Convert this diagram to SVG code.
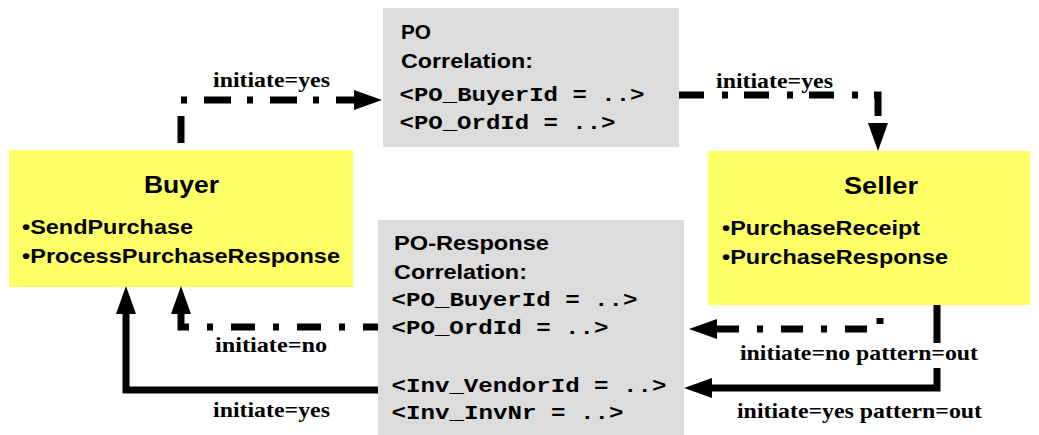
<svg xmlns="http://www.w3.org/2000/svg" width="1039" height="435" viewBox="0 0 1039 435">
<style>
.yb{fill:#FFFF66}
.gb{fill:#DCDCDC}
.t{font-family:"Liberation Sans",Arial,sans-serif;font-weight:bold;font-size:23px;fill:#000}
.s{font-family:"Liberation Sans",Arial,sans-serif;font-weight:bold;font-size:20.5px;fill:#000}
.m{font-family:"Liberation Mono","Courier New",monospace;font-weight:bold;font-size:21px;fill:#000}
.l{font-family:"Liberation Serif","Times New Roman",serif;font-weight:bold;font-size:21px;fill:#000}
.c{fill:none;stroke:#000;stroke-width:7;marker-end:url(#ah)}
</style>
<defs>
<marker id="ah" markerUnits="userSpaceOnUse" markerWidth="28" markerHeight="20" viewBox="0 0 28 20" refX="0" refY="10" orient="auto">
<path d="M0,0 L28,10 L0,20 z" fill="#000"/>
</marker>
</defs>
<rect width="1039" height="435" fill="#fff"/>

<g id="buyer">
<rect class="yb" x="9" y="150" width="344" height="137"/>
<text class="t" x="144" y="193" textLength="75" lengthAdjust="spacingAndGlyphs">Buyer</text>
<text class="s" x="22" y="234" textLength="171" lengthAdjust="spacingAndGlyphs">•SendPurchase</text>
<text class="s" x="22" y="263" textLength="318" lengthAdjust="spacingAndGlyphs">•ProcessPurchaseResponse</text>
</g>

<g id="seller">
<rect class="yb" x="708" y="151" width="322" height="154"/>
<text class="t" x="844" y="194" textLength="74" lengthAdjust="spacingAndGlyphs">Seller</text>
<text class="s" x="722" y="235" textLength="198" lengthAdjust="spacingAndGlyphs">•PurchaseReceipt</text>
<text class="s" x="722" y="264" textLength="226" lengthAdjust="spacingAndGlyphs">•PurchaseResponse</text>
</g>

<g id="po-correlation">
<rect class="gb" x="383" y="8" width="296" height="139"/>
<text class="s" x="401" y="39" textLength="30" lengthAdjust="spacingAndGlyphs">PO</text>
<text class="s" x="401" y="68" textLength="132" lengthAdjust="spacingAndGlyphs">Correlation:</text>
<text class="m" x="399.5" y="101" textLength="245" lengthAdjust="spacingAndGlyphs">&lt;PO_BuyerId = ..&gt;</text>
<text class="m" x="399.5" y="129" textLength="216" lengthAdjust="spacingAndGlyphs">&lt;PO_OrdId = ..&gt;</text>
</g>

<g id="po-response-correlation">
<rect class="gb" x="378" y="220" width="306" height="215"/>
<text class="s" x="394" y="250" textLength="155" lengthAdjust="spacingAndGlyphs">PO-Response</text>
<text class="s" x="394" y="279" textLength="133" lengthAdjust="spacingAndGlyphs">Correlation:</text>
<text class="m" x="391.5" y="306" textLength="246" lengthAdjust="spacingAndGlyphs">&lt;PO_BuyerId = ..&gt;</text>
<text class="m" x="391.5" y="334" textLength="217" lengthAdjust="spacingAndGlyphs">&lt;PO_OrdId = ..&gt;</text>
<text class="m" x="391.5" y="392" textLength="275" lengthAdjust="spacingAndGlyphs">&lt;Inv_VendorId = ..&gt;</text>
<text class="m" x="391.5" y="419" textLength="232" lengthAdjust="spacingAndGlyphs">&lt;Inv_InvNr = ..&gt;</text>
</g>

<g id="connectors">
<path class="c" d="M181,150 V100 H354" stroke-dasharray="27 16 6 17" stroke-dashoffset="-7"/>
<path class="c" d="M679,95 H878 V123" stroke-dasharray="25 18 6 16"/>
<path class="c" d="M880,305 V329 H717" stroke-dasharray="6 18 22 18" stroke-dashoffset="-13"/>
<path class="c" d="M937,305 V343 M937,368 V388 H712"/>
<path class="c" d="M378,327 H181 V314" stroke-dasharray="24 18 6 18" stroke-dashoffset="9"/>
<path class="c" d="M378,390 H126 V314"/>
<text class="l" x="213" y="87" textLength="117" lengthAdjust="spacingAndGlyphs">initiate=yes</text>
<text class="l" x="716" y="88" textLength="117" lengthAdjust="spacingAndGlyphs">initiate=yes</text>
<text class="l" x="215" y="352" textLength="112" lengthAdjust="spacingAndGlyphs">initiate=no</text>
<text class="l" x="213" y="417" textLength="117" lengthAdjust="spacingAndGlyphs">initiate=yes</text>
<text class="l" x="740" y="360" textLength="238" lengthAdjust="spacingAndGlyphs">initiate=no pattern=out</text>
<text class="l" x="737" y="418" textLength="245" lengthAdjust="spacingAndGlyphs">initiate=yes pattern=out</text>
</g>
</svg>
